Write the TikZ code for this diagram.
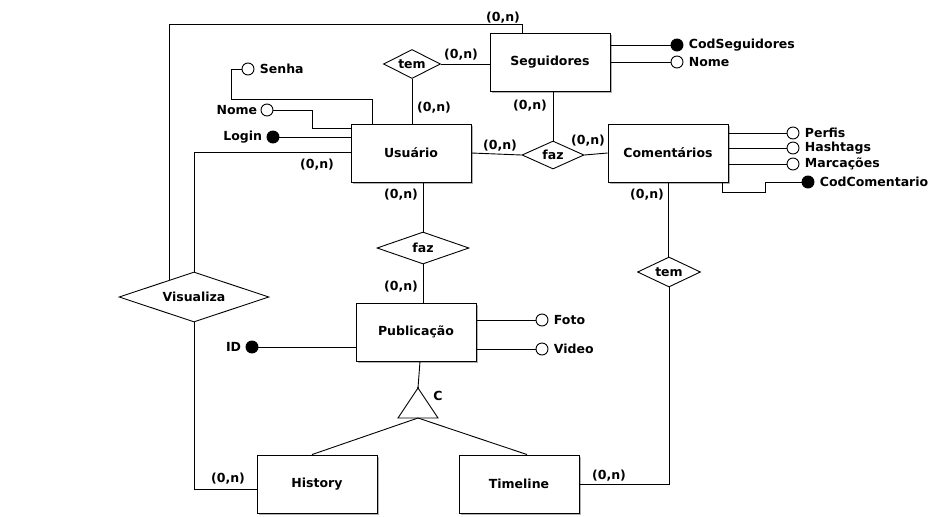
\documentclass[tikz,border=0pt]{standalone}
\usepackage{fontspec}
\setmainfont{DejaVu Sans}
\usetikzlibrary{positioning,shapes.geometric,shadows,calc}

\begin{document}
\begin{tikzpicture}[x=1pt, y=-1pt, line width=.9pt,
    every node/.style={font=\fontsize{12.5}{14}\selectfont\bfseries},
    entidade/.style={draw, fill=white, minimum width=120pt, minimum height=58pt,
      drop shadow={shadow xshift=1.5pt, shadow yshift=-1.5pt, fill=gray!60, opacity=1}},
    relac/.style={draw, diamond, fill=white, inner sep=0pt, aspect=2},
    atrib/.style={draw, circle, fill=white, inner sep=0pt, minimum size=12pt},
    chave/.style={atrib, fill=black},
    nomeat/.style={inner sep=1pt},
    card/.style={inner sep=1pt}]
  \fill[white] (0,0) rectangle (938,517);
  \useasboundingbox (0,0) rectangle (938,517);

  % entidades
  \node[entidade] (seg) at (550,62) {Seguidores};
  \node[entidade] (usu) at (411,153) {Usuário};
  \node[entidade] (com) at (668,153) {Comentários};
  \node[entidade] (pub) at (416,332) {Publicação};
  \node[entidade] (hist) at (317,484) {History};
  \node[entidade] (timel) at (519,484) {Timeline};

  % relacionamentos
  \node[relac, minimum width=57pt, minimum height=29pt] (tem1) at (412,64) {tem};
  \node[relac, minimum width=62pt, minimum height=28pt] (faz1) at (553,155) {faz};
  \node[relac, minimum width=92pt, minimum height=32pt] (faz2) at (423,248) {faz};
  \node[relac, minimum width=150pt, minimum height=50pt, aspect=3] (visu) at (194,297) {Visualiza};
  \node[relac, minimum width=63pt, minimum height=30pt] (tem2) at (669,272) {tem};

  % atributos
  \node[atrib] (senha) at (248,69) {};
  \node[nomeat, right=4pt of senha] (senhaT) {Senha};
  \node[atrib] (nomeu) at (267,110) {};
  \node[nomeat, left=2pt of nomeu] (nomeuT) {Nome};
  \node[chave] (login) at (273,137) {};
  \node[nomeat, left=3pt of login] (loginT) {Login};
  \node[chave] (codseg) at (677,45) {};
  \node[nomeat, right=4pt of codseg] (codsegT) {CodSeguidores};
  \node[atrib] (nomes) at (677,62) {};
  \node[nomeat, right=4pt of nomes] (nomesT) {Nome};
  \node[atrib] (perfis) at (793,133) {};
  \node[nomeat, right=4pt of perfis] (perfisT) {Perfis};
  \node[atrib] (hash) at (793,148) {};
  \node[nomeat, right=4pt of hash] (hashT) {Hashtags};
  \node[atrib] (marc) at (793,164) {};
  \node[nomeat, right=4pt of marc] (marcT) {Marcações};
  \node[chave] (codcom) at (808,182) {};
  \node[nomeat, right=4pt of codcom] (codcomT) {CodComentario};
  \node[atrib] (foto) at (542,320) {};
  \node[nomeat, right=4pt of foto] (fotoT) {Foto};
  \node[atrib] (video) at (542,349) {};
  \node[nomeat, right=4pt of video] (videoT) {Video};
  \node[chave] (id) at (252,347) {};
  \node[nomeat, left=3pt of id] (idT) {ID};

  % ligacoes dos atributos
  \draw (senha.west) -- ++(-10,0) -- ++(0,30) -| ([xshift=-39pt]usu.north);
  \draw (nomeu.east) -- ++(39,0) |- ([yshift=25pt]usu.west);
  \draw (login.east) -- (login.east -| usu.west);
  \draw (codseg.west) -- (codseg.west -| seg.east);
  \draw (nomes.west) -- (nomes.west -| seg.east);
  \draw (perfis.west) -- (perfis.west -| com.east);
  \draw (hash.west) -- (hash.west -| com.east);
  \draw (marc.west) -- (marc.west -| com.east);
  \draw (codcom.west) -- ++(-36,0) -- ++(0,10) -| ([xshift=-6pt]com.south east);
  \draw (foto.west) -- (foto.west -| pub.east);
  \draw (video.west) -- (video.west -| pub.east);
  \draw (id.east) -- (id.east -| pub.west);

  % ligacoes dos relacionamentos
  \coordinate (vlink) at (169,280);
  \draw (vlink) -- (169,24) -| ([xshift=-28pt]seg.north);
  \draw (tem1.east) -- (tem1.east -| seg.west);
  \draw (tem1.south) -- (tem1.south |- usu.north);
  \draw (faz1.north) -- (faz1.north |- seg.south);
  \draw (usu.east) -- (faz1.west);
  \draw (faz1.east) -- (com.west);
  \draw (visu.north) |- ([yshift=1pt]usu.west);
  \draw (visu.south) |- ([yshift=-5pt]hist.west);
  \draw (faz2.north) -- (faz2.north |- usu.south);
  \draw (faz2.south) -- (faz2.south |- pub.north);
  \draw (com.south) -- (com.south |- tem2.north);
  \draw (tem2.south) |- (timel.east);

  % especializacao
  \coordinate (apex) at (418,388);
  \coordinate (base) at (418,418);
  \draw (apex) -- (398,418) -- (438,418) -- cycle;
  \fill (apex) circle (1.2pt);
  \node (spec) at (438,396) {C};
  \draw ([xshift=4pt]pub.south) -- (apex);
  \draw (base) -- ([xshift=-5pt]hist.north);
  \draw (base) -- ([xshift=8pt]timel.north);

  % cardinalidades
  \node[card] (c1) at (503,18) {(0,n)};
  \node[card] (c2) at (461,55) {(0,n)};
  \node[card] (c3) at (434,108) {(0,n)};
  \node[card] (c4) at (530,106) {(0,n)};
  \node[card] (c5) at (500,146) {(0,n)};
  \node[card] (c6) at (588,141) {(0,n)};
  \node[card] (c7) at (317,165) {(0,n)};
  \node[card] (c8) at (401,195) {(0,n)};
  \node[card] (c9) at (401,287) {(0,n)};
  \node[card] (c10) at (647,195) {(0,n)};
  \node[card] (c11) at (228,479) {(0,n)};
  \node[card] (c12) at (609,476) {(0,n)};
\end{tikzpicture}
\end{document}
